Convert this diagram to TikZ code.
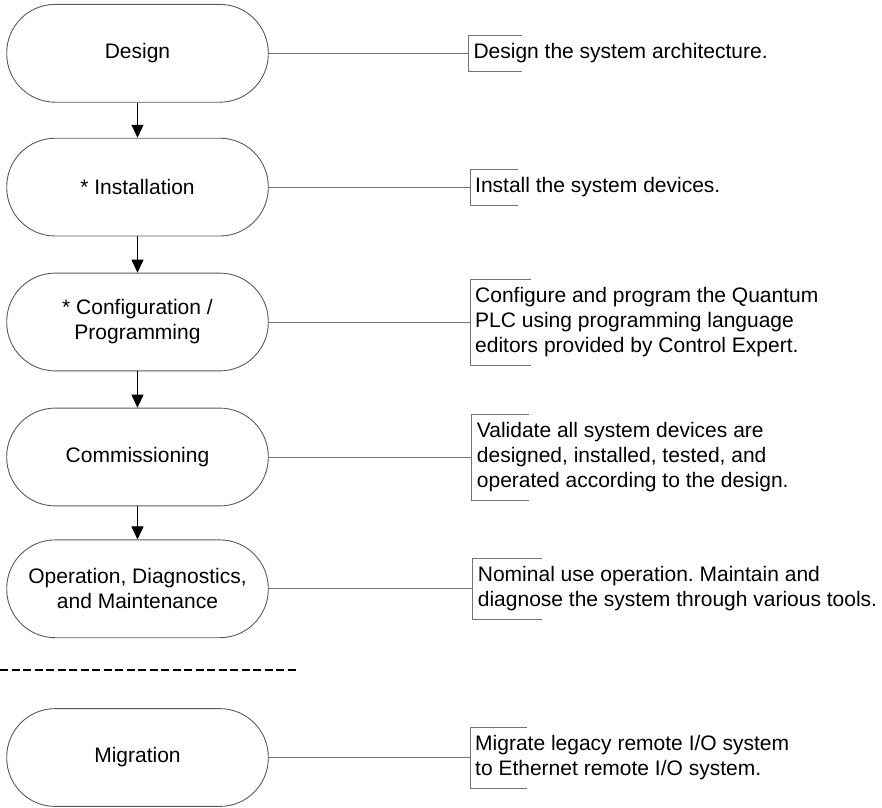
\documentclass[tikz,border=0pt]{standalone}
\usepackage{fontspec}
\setmainfont{Liberation Sans}
\usetikzlibrary{arrows.meta}
\definecolor{boxgray}{RGB}{90,90,90}
\definecolor{linegray}{RGB}{115,115,115}
\newcommand\bracketfor[2]{\draw[link] ([xshift=#2]#1.north west) -- (#1.north west) -- (#1.south west) -- ++(#2,0);}
\frenchspacing
\begin{document}
\begin{tikzpicture}[x=1pt,y=-1pt,
  stage/.style={draw=boxgray, line width=0.9pt, rounded corners=48.5pt,
    minimum width=261.6pt, minimum height=97.8pt, align=center, inner sep=0pt,
    font=\fontsize{21}{25}\selectfont},
  desc/.style={anchor=west, align=left, inner xsep=5pt, inner ysep=8pt,
    font=\fontsize{21}{25}\selectfont},
  link/.style={draw=linegray, line width=0.9pt},
  flow/.style={-{Triangle[width=12pt,length=13pt]}, line width=0.9pt, black},
  dashline/.style={black, line width=2.2pt, dash pattern=on 8pt off 3.5pt}
  ]
\useasboundingbox (0,0) rectangle (882,807);

% stages
\node[stage] (design)  at (137.5,53.3)  {Design};
\node[stage] (install) at (137.5,187.1) {* Installation};
\node[stage] (config)  at (137.5,322)   {* Configuration /\\Programming};
\node[stage] (commis)  at (137.5,457)   {Commissioning};
\node[stage] (oper)    at (137.5,588.8) {Operation, Diagnostics,\\and Maintenance};
\node[stage] (migr)    at (137.5,757.5) {Migration};

% descriptions
\node[desc] (ddesign)  at (468.3,53.3)  {Design the system architecture.};
\node[desc] (dinstall) at (470,187.1)   {Install the system devices.};
\node[desc] (dconfig)  at (470,322)     {Configure and program the Quantum\\PLC using programming language\\editors provided by Control Expert.};
\node[desc] (dcommis)  at (471.7,457)   {Validate all system devices are\\designed, installed, tested, and\\operated according to the design.};
\node[desc] (doper)    at (472.7,588.8) {Nominal use operation. Maintain and\\diagnose the system through various tools.};
\node[desc] (dmigr)    at (470,757.5)   {Migrate legacy remote I/O system\\to Ethernet remote I/O system.};

% brackets
\bracketfor{ddesign}{54pt}
\bracketfor{dinstall}{48pt}
\bracketfor{dconfig}{61pt}
\bracketfor{dcommis}{57pt}
\bracketfor{doper}{69pt}
\bracketfor{dmigr}{57pt}

% connectors to descriptions
\draw[link] (design.east)  -- (ddesign.west);
\draw[link] (install.east) -- (dinstall.west);
\draw[link] (config.east)  -- (dconfig.west);
\draw[link] (commis.east)  -- (dcommis.west);
\draw[link] (oper.east)    -- (doper.west);
\draw[link] (migr.east)    -- (dmigr.west);

% flow arrows
\draw[flow] (design.south)  -- (install.north);
\draw[flow] (install.south) -- (config.north);
\draw[flow] (config.south)  -- (commis.north);
\draw[flow] (commis.south)  -- (oper.north);

% separator
\coordinate (sepL) at (0,670);
\coordinate (sepR) at (296.7,670);
\draw[dashline] (sepL) -- (sepR);
\end{tikzpicture}
\end{document}
